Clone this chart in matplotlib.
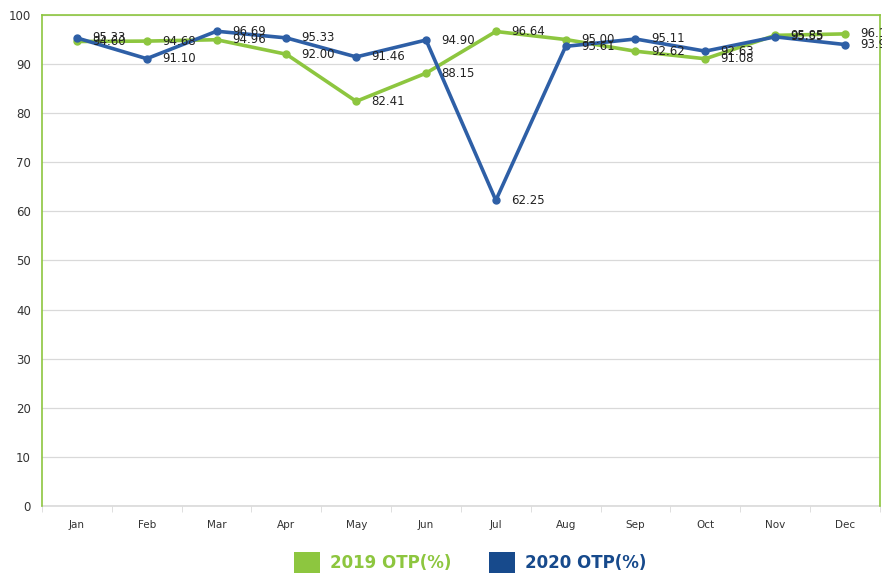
import matplotlib.pyplot as plt
from matplotlib.patches import Patch

months = ['Jan', 'Feb', 'Mar', 'Apr', 'May', 'Jun', 'Jul', 'Aug', 'Sep', 'Oct', 'Nov', 'Dec']
otp_2019 = [94.60, 94.68, 94.96, 92.00, 82.41, 88.15, 96.64, 95.00, 92.62, 91.08, 95.85, 96.15]
otp_2020 = [95.33, 91.10, 96.69, 95.33, 91.46, 94.90, 62.25, 93.61, 95.11, 92.63, 95.55, 93.98]

green = '#8dc63f'
blue = '#2e5fa6'
blue_dark = '#174a8c'

fig = plt.figure(figsize=(8.82, 5.76), dpi=100)
ax = fig.add_axes([0.0476, 0.1215, 0.95, 0.8525])

x = list(range(len(months)))
ax.plot(x, otp_2019, color=green, lw=2.6, marker='o', ms=5, zorder=3)
ax.plot(x, otp_2020, color=blue, lw=2.6, marker='o', ms=5, zorder=4)

# data labels sit to the right of each point (overlaps as in the original)
for xi, v in zip(x, otp_2019):
    ax.annotate(f'{v:.2f}', (xi, v), xytext=(11, 0), textcoords='offset points',
                va='center', ha='left', fontsize=8.5, color='#222222', zorder=5)
for xi, v in zip(x, otp_2020):
    ax.annotate(f'{v:.2f}', (xi, v), xytext=(11, 0), textcoords='offset points',
                va='center', ha='left', fontsize=8.5, color='#222222', zorder=5)

ax.set_xlim(-0.5, 11.5)
ax.set_ylim(0, 100)
ax.set_yticks(range(0, 101, 10))
ax.set_xticks(x)
ax.set_xticklabels(months, fontsize=7.5, color='#333333')
ax.set_xticks([i - 0.5 for i in range(13)], minor=True)
ax.tick_params(axis='x', which='major', length=0, pad=10)
ax.tick_params(axis='x', which='minor', length=4, color='#d9d9d9')
ax.tick_params(axis='y', length=0, labelsize=8.5, labelcolor='#333333', pad=8)
ax.grid(axis='y', color='#d9d9d9', lw=0.9)
ax.set_axisbelow(True)

for side in ['left', 'top', 'right']:
    ax.spines[side].set_color(green)
    ax.spines[side].set_linewidth(1.2)
ax.spines['bottom'].set_color('#d9d9d9')
ax.spines['bottom'].set_linewidth(1.2)
ax.spines['bottom'].set_zorder(0)

handles = [Patch(facecolor=green, edgecolor='none'), Patch(facecolor=blue_dark, edgecolor='none')]
leg = fig.legend(handles, ['2019 OTP(%)', '2020 OTP(%)'], loc='center', bbox_to_anchor=(0.533, 0.023),
                 ncol=2, frameon=False, handlelength=1.55, handleheight=1.55, handletextpad=0.6,
                 columnspacing=2.3, prop={'weight': 'bold', 'size': 12})
for t, c in zip(leg.get_texts(), [green, blue_dark]):
    t.set_color(c)

fig.savefig('out.png', dpi=100)
